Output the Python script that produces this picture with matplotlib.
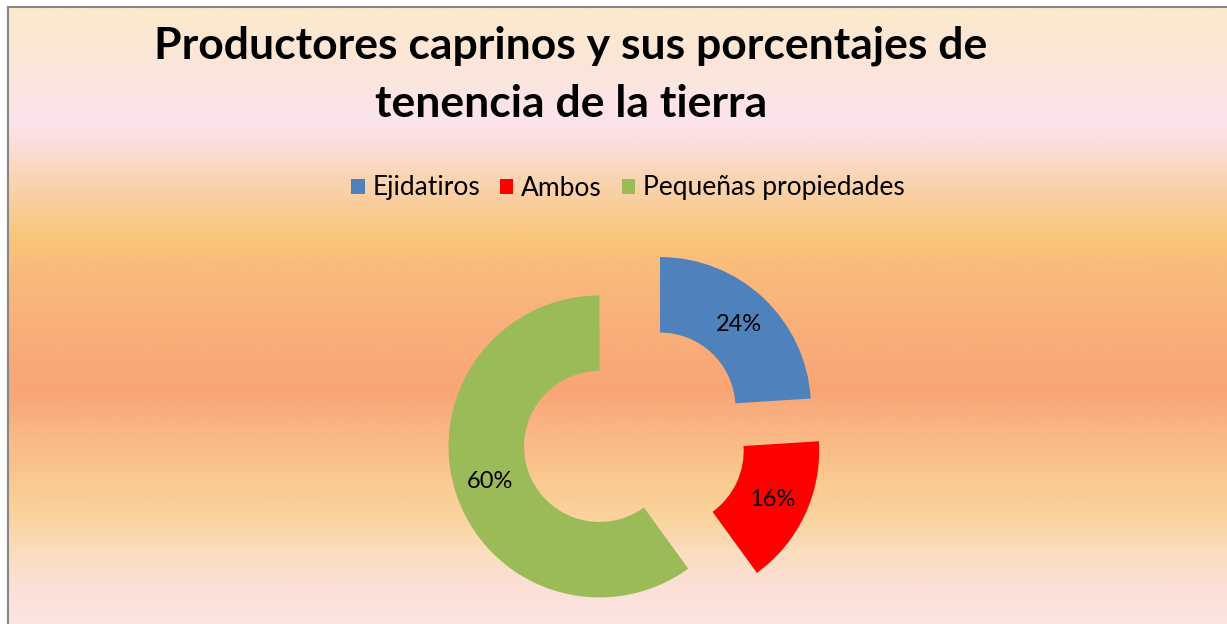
import numpy as np
import matplotlib.pyplot as plt
from matplotlib.patches import Patch
from matplotlib.colors import LinearSegmentedColormap

# data
categorias = ['Ejidatiros', 'Ambos', 'Pequeñas propiedades']
porcentajes = [24, 16, 60]
colores = ['#4F81BD', '#FF0000', '#9BBB59']

titulo_1 = 'Productores caprinos y sus porcentajes de'
titulo_2 = 'tenencia de la tierra'

# background gradient stops (pixel from top, colour)
grad_stops = [(7, '#FBEACB'), (60, '#FBE6D8'), (118, '#FCE4EC'), (140, '#FCDFE0'),
              (173, '#FAD6B8'), (207, '#F9CD98'), (237, '#F9C67A'), (273, '#F9BA7C'),
              (323, '#F9B07A'), (390, '#F9A576'), (413, '#F9AE7E'), (447, '#F9BC88'),
              (480, '#FAC990'), (520, '#FAD49E'), (553, '#FBDDBF'), (587, '#FCE0D6'),
              (624, '#FCE4E4')]

W, H = 1227, 624
fig = plt.figure(figsize=(W / 100, H / 100), dpi=100)
fig.patch.set_facecolor('white')
font = ['Lato', 'DejaVu Sans']

# chart area background
x0, y0 = 8, 7
ax_bg = fig.add_axes([x0 / W, 0, 1 - x0 / W, (H - y0) / H])
pos = [(p - y0) / (H - y0) for p, c in grad_stops]
cmap = LinearSegmentedColormap.from_list('fondo', list(zip(pos, [c for p, c in grad_stops])))
ax_bg.imshow(np.linspace(0, 1, 600).reshape(-1, 1), cmap=cmap, aspect='auto',
             extent=[0, 1, 0, 1], interpolation='bilinear')
ax_bg.set_xticks([])
ax_bg.set_yticks([])
for s in ['right', 'bottom']:
    ax_bg.spines[s].set_visible(False)
for s in ['left', 'top']:
    ax_bg.spines[s].set_color('#878787')
    ax_bg.spines[s].set_linewidth(1.5)

# pie axes in radius units (1 unit = 151 px)
R = 151.0
cx, cy = 634.7, H - 435
ax = fig.add_axes([0, 0, 1, 1])
ax.patch.set_alpha(0)
wedges, texts, autotexts = ax.pie(
    porcentajes, colors=colores, startangle=90, counterclock=False,
    explode=[0.245] * 3, radius=1, wedgeprops=dict(width=0.5, linewidth=0),
    autopct='%1.0f%%', pctdistance=0.76,
    textprops=dict(fontsize=17, family=font, color='black'))
ax.set_xlim(-cx / R, (W - cx) / R)
ax.set_ylim(-cy / R, (H - cy) / R)
ax.set_aspect('auto')
ax.axis('off')

# title
fig.text(571 / W, 1 - 58 / H, titulo_1, ha='center', va='baseline',
         fontsize=32, fontweight='bold', family=font)
fig.text(571 / W, 1 - 117 / H, titulo_2, ha='center', va='baseline',
         fontsize=32, fontweight='bold', family=font)

# legend
handles = [Patch(facecolor=c, edgecolor='none') for c in colores]
fig.legend(handles, categorias, loc='center', bbox_to_anchor=(628 / W, 1 - 188 / H),
           ncol=3, frameon=False, handlelength=0.5, handleheight=0.5,
           handletextpad=0.3, columnspacing=0.75, prop=dict(family=font, size=19))

fig.savefig('out.png', dpi=100)
